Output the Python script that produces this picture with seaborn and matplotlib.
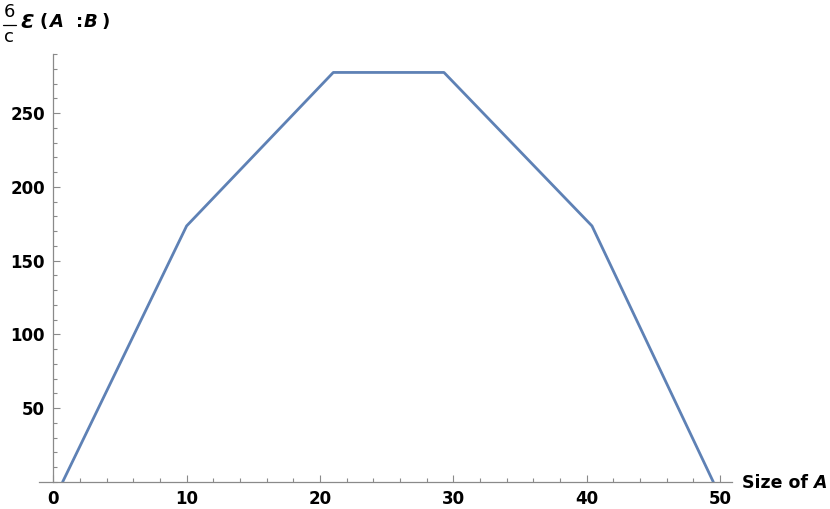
import numpy as np
import pandas as pd
import matplotlib
matplotlib.use("Agg")
import matplotlib.pyplot as plt
from matplotlib.ticker import MultipleLocator
from matplotlib.lines import Line2D
import seaborn as sns

# ============================
# Data
# ============================
size_a = [0.7, 10.0, 21.0, 29.3, 40.4, 49.5]
entanglement = [0.0, 173.5, 277.5, 277.5, 173.5, 0.0]

df = pd.DataFrame({"size": size_a, "ent": entanglement})

sns.set_style("white")
plt.rcParams["font.family"] = ["DejaVu Sans"]
plt.rcParams["text.color"] = "black"

fig = plt.figure(figsize=(8.3, 5.09), dpi=100)
ax = fig.add_axes([39 / 830, 1 - 482 / 509, (732 - 39) / 830, (482 - 54) / 509])

sns.lineplot(data=df, x="size", y="ent", color="#5E81B5", linewidth=2.0, ax=ax)

ax.set_xlim(-1.07, 50.9)
ax.set_ylim(0, 290)

# Mathematica-like axes crossing at the origin
axis_col = "#8a8a8a"
ax.spines["left"].set_position(("data", 0))
ax.spines["right"].set_visible(False)
ax.spines["top"].set_visible(False)
for s in ["left", "bottom"]:
    ax.spines[s].set_color(axis_col)
    ax.spines[s].set_linewidth(0.9)

ax.xaxis.set_major_locator(MultipleLocator(10))
ax.xaxis.set_minor_locator(MultipleLocator(2))
ax.yaxis.set_major_locator(MultipleLocator(50))
ax.yaxis.set_minor_locator(MultipleLocator(10))
ax.tick_params(which="both", direction="in", color=axis_col, width=0.8,
               bottom=True, left=True, labelcolor="black")
ax.tick_params(which="major", length=5, labelsize=12, pad=6)
ax.tick_params(which="minor", length=3)
ax.set_yticks([50, 100, 150, 200, 250])
for lab in ax.get_xticklabels() + ax.get_yticklabels():
    lab.set_fontweight("bold")
ax.set_xlabel("")
ax.set_ylabel("")

# x axis label at the right end
fig.text(742 / 830, 1 - 483 / 509, "Size of", fontsize=12.5, fontweight="bold",
         ha="left", va="center")
fig.text(813 / 830, 1 - 483 / 509, "A", fontsize=12.5, fontweight="bold",
         style="italic", ha="left", va="center")

# y axis label at the top left: 6/c  E (A : B)
fig.text(9 / 830, 1 - 12 / 509, "6", fontsize=13, ha="center", va="center")
fig.text(9 / 830, 1 - 37 / 509, "c", fontsize=13, ha="center", va="center")
fig.add_artist(Line2D([3 / 830, 16 / 830], [1 - 25 / 509, 1 - 25 / 509],
                      color="black", linewidth=0.9))
ylab = [("\u0190", 21, "bold", "italic", 14), ("(", 39, "bold", "normal", 13),
        ("A", 49, "bold", "italic", 13), (":", 76, "bold", "normal", 13),
        ("B", 84, "bold", "italic", 13), (")", 101, "bold", "normal", 13)]
for txt, px, w, st, fs in ylab:
    fig.text(px / 830, 1 - 22 / 509, txt, fontsize=fs, fontweight=w, style=st,
             ha="left", va="center")

fig.savefig("out.png", dpi=100)
